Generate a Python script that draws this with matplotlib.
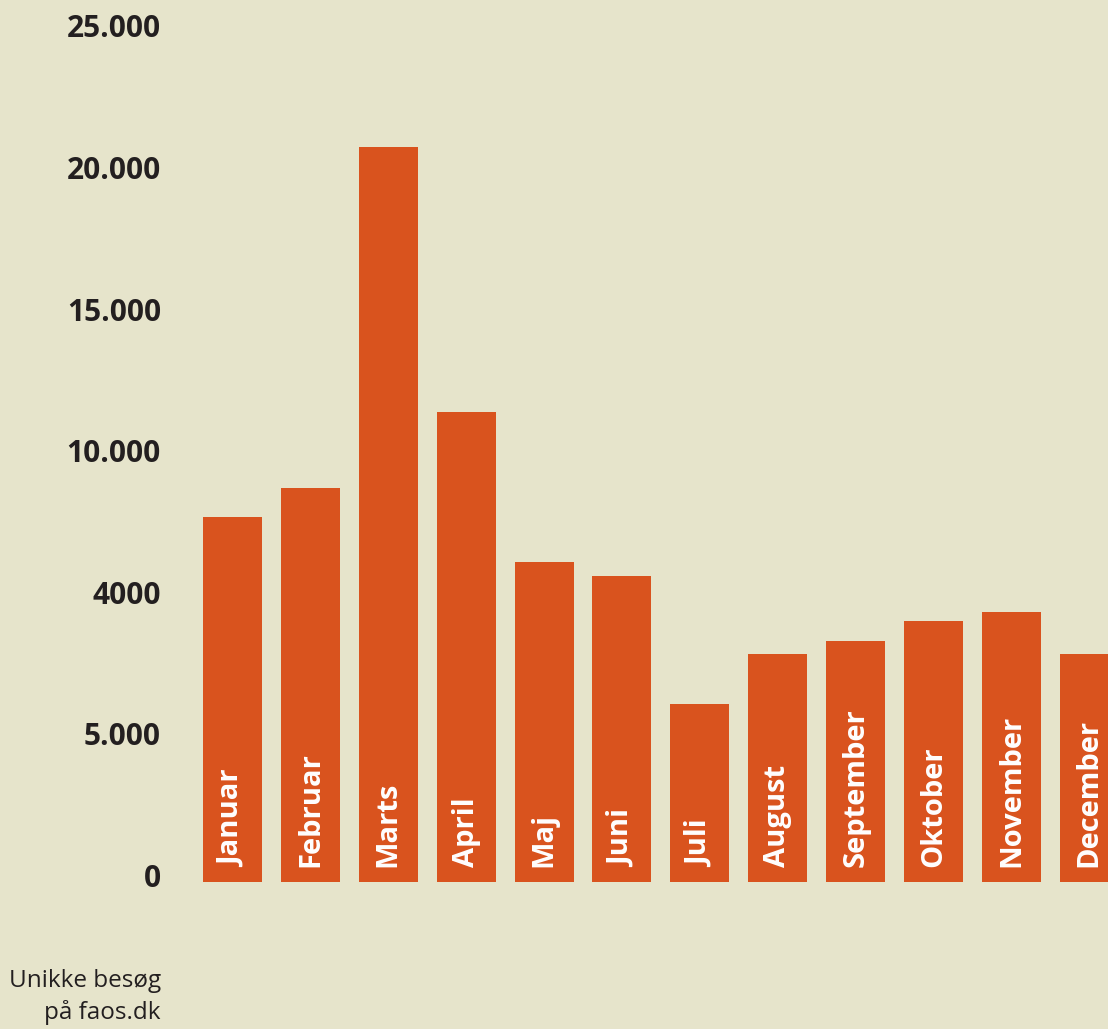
import matplotlib.pyplot as plt
from matplotlib.transforms import ScaledTranslation

months = ["Januar", "Februar", "Marts", "April", "Maj", "Juni", "Juli",
          "August", "September", "Oktober", "November", "December"]
visits = [12900, 13900, 25950, 16600, 11300, 10800, 6300,
          8050, 8500, 9200, 9550, 8050]

tick_values = [0, 5000, 10000, 15000, 20000, 25000, 30000]
tick_labels = ["0", "5.000", "4000", "10.000", "15.000", "20.000", "25.000"]

bg = "#E6E4CB"
bar_color = "#D9531E"
text_color = "#231F20"

plt.rcParams["font.family"] = ["Open Sans", "DejaVu Sans"]

fig = plt.figure(figsize=(11.08, 10.29), dpi=100, facecolor=bg)
ax = fig.add_axes([179 / 1108, 147 / 1029, 929 / 1108, 882 / 1029])
ax.set_facecolor(bg)

x = list(range(len(months)))
ax.bar(x, visits, width=0.757, color=bar_color)
ax.set_xlim(-0.687, 11.24)
ax.set_ylim(0, 31144)
ax.axis("off")

# maanedsnavne inde i soejlerne
for xi, name in zip(x, months):
    ax.text(xi, 0, name, rotation=90, ha="center", va="bottom",
            color="white", fontsize=21, fontweight="bold",
            transform=ax.transData + ScaledTranslation(0, 15 / 100, fig.dpi_scale_trans))

# y-akse etiketter (som i originalen)
shift = ScaledTranslation(-18 / 100, 3 / 100, fig.dpi_scale_trans)
for v, lab in zip(tick_values, tick_labels):
    ax.text(0, v, lab, ha="right", va="center", color=text_color,
            fontsize=21.5, fontweight="bold",
            transform=ax.get_yaxis_transform() + shift, clip_on=False)

fig.text(161 / 1108, 1 - 997 / 1029, "Unikke besøg\npå faos.dk", ha="right",
         va="center", color=text_color, fontsize=17.5, linespacing=1.4)

fig.savefig("out.png", dpi=100, facecolor=bg)
